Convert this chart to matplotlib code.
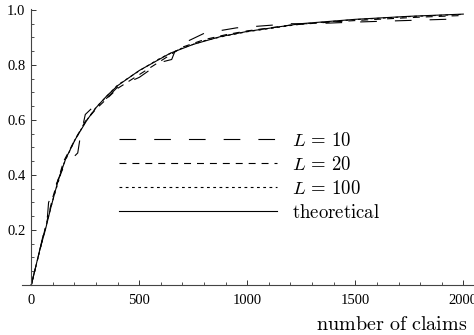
import matplotlib
matplotlib.use('Agg')
import matplotlib.pyplot as plt
from matplotlib.ticker import MultipleLocator, FixedLocator, FormatStrFormatter

# theoretical curve
x_theo = [0, 20, 40, 65, 90, 126, 160, 204, 258, 300, 350, 400, 500, 644, 750,
          875, 1000, 1245, 1500, 1750, 2000]
y_theo = [0, 0.065, 0.13, 0.20, 0.28, 0.385, 0.46, 0.53, 0.60, 0.645, 0.688,
          0.725, 0.78, 0.843, 0.875, 0.903, 0.922, 0.95, 0.966, 0.977, 0.985]

# L = 10
x_l10 = [0, 40, 75, 80, 150, 215, 225, 250, 290, 350, 400, 500, 600, 650, 665,
         720, 800, 950, 1200, 1300, 1500, 1750, 2000]
y_l10 = [0, 0.13, 0.25, 0.30, 0.43, 0.48, 0.53, 0.62, 0.65, 0.68, 0.72, 0.755,
         0.81, 0.82, 0.85, 0.885, 0.915, 0.935, 0.95, 0.95, 0.956, 0.962, 0.968]

# L = 20
x_l20 = [0, 50, 100, 150, 200, 250, 300, 400, 500, 600, 650, 700, 800, 900,
         1000, 1200, 1400, 1600, 1800, 2000]
y_l20 = [0, 0.16, 0.32, 0.45, 0.525, 0.595, 0.64, 0.715, 0.765, 0.815, 0.84,
         0.865, 0.892, 0.91, 0.924, 0.945, 0.957, 0.966, 0.974, 0.98]

# L = 100
x_l100 = [0, 25, 50, 100, 150, 200, 250, 300, 400, 500, 600, 700, 800, 900,
          1000, 1250, 1500, 1750, 2000]
y_l100 = [0, 0.08, 0.16, 0.31, 0.44, 0.525, 0.592, 0.646, 0.727, 0.779, 0.826,
          0.862, 0.888, 0.906, 0.921, 0.949, 0.965, 0.976, 0.984]

x_ticks = [0, 500, 1000, 1500, 2000]
y_ticks = [0.2, 0.4, 0.6, 0.8, 1.0]

plt.rcParams['font.family'] = 'Liberation Serif'
plt.rcParams['mathtext.fontset'] = 'cm'
plt.rcParams['lines.scale_dashes'] = False

W, H = 474, 335
fig = plt.figure(figsize=(W / 100, H / 100), dpi=100)
ax = fig.add_axes([22 / W, 50 / H, 452 / W, 276.4 / H])
ax.set_xlim(-43, 2049.5)
ax.set_ylim(0, 1.005)

lw = 0.8
ax.plot(x_l10, y_l10, color='black', lw=lw, dashes=(12, 13), label=r'$L\,=\,10$')
ax.plot(x_l20, y_l20, color='black', lw=lw, dashes=(5, 4.3), label=r'$L\,=\,20$')
ax.plot(x_l100, y_l100, color='black', lw=lw, dashes=(2.0, 2.5), label=r'$L\,=\,100$')
ax.plot(x_theo, y_theo, color='black', lw=lw, label=r'$\mathrm{theoretical}$')

for s in ['top', 'right']:
    ax.spines[s].set_visible(False)
ax.spines['left'].set_position(('data', 0))
ax.spines['bottom'].set_position(('data', 0))
for s in ['left', 'bottom']:
    ax.spines[s].set_color('#444444')
    ax.spines[s].set_linewidth(0.8)

ax.xaxis.set_major_locator(FixedLocator(x_ticks))
ax.xaxis.set_minor_locator(MultipleLocator(100))
ax.yaxis.set_major_locator(FixedLocator(y_ticks))
ax.yaxis.set_minor_locator(MultipleLocator(0.05))
ax.yaxis.set_major_formatter(FormatStrFormatter('%.1f'))
ax.tick_params(which='major', direction='in', length=3.6, width=0.7,
               color='#333333', labelsize=10.5, pad=4.2)
ax.tick_params(which='minor', direction='in', length=2.2, width=0.6,
               color='#333333')
ax.tick_params(axis='x', which='major', pad=6.2)

ax.legend(loc='upper left', bbox_to_anchor=((119 - 22) / 452, 1 - 123.3 / 276.4),
          frameon=False, fontsize=13.5, handlelength=8.44, handletextpad=0.81,
          labelspacing=0.32, borderpad=0, borderaxespad=0)

fig.text(467 / W, 1 - 330 / H, r'$\mathrm{number\ of\ claims}$', fontsize=14.5,
         ha='right', va='baseline')

fig.savefig('out.png', dpi=100)
